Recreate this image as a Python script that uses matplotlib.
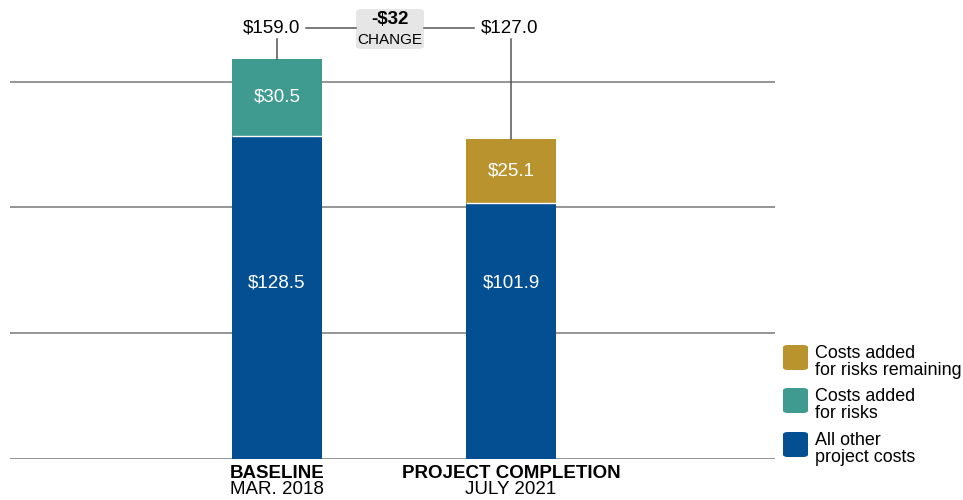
import matplotlib
matplotlib.use("Agg")
import matplotlib.pyplot as plt
from matplotlib.patches import FancyBboxPatch

plt.rcParams['font.family'] = ['Liberation Sans', 'DejaVu Sans']

categories = ["BASELINE", "PROJECT COMPLETION"]
subtitles = ["MAR. 2018", "JULY 2021"]
other_costs = [128.5, 101.9]
risk_costs = [30.5, 0.0]
risk_remaining = [0.0, 25.1]
totals = [159.0, 127.0]
change_label = "-$32"
gridlines = [50, 100, 150]

legend_labels = ["Costs added\nfor risks remaining", "Costs added\nfor risks", "All other\nproject costs"]

BLUE = "#034f91"
TEAL = "#3f9a8f"
GOLD = "#b8932e"
GRID = "#8c8c8c"
FS = 13.5

W, H = 963, 500
fig = plt.figure(figsize=(W / 100, H / 100), dpi=100)
ax_left, ax_right = 10, 775
ax_bottom_px = 459
scale = 2.516
ax = fig.add_axes([ax_left / W, (H - ax_bottom_px) / H, (ax_right - ax_left) / W, ax_bottom_px / H])

px_per_unit = 234.0
c0 = 267.0
ax.set_xlim(-c0 / px_per_unit, (ax_right - ax_left - c0) / px_per_unit)
ax.set_ylim(0, ax_bottom_px / scale)
ax.axis("off")

for g in gridlines:
    ax.axhline(g, color=GRID, lw=1.3, zorder=0)
ax.axhline(0, color=GRID, lw=1.3, zorder=0)

xs = list(range(len(categories)))
bw = 90 / px_per_unit
ax.bar(xs, other_costs, width=bw, color=BLUE, linewidth=0, zorder=2)
ax.bar(xs, risk_costs, width=bw, bottom=other_costs, color=TEAL, linewidth=0, zorder=2)
ax.bar(xs, risk_remaining, width=bw, bottom=other_costs, color=GOLD, linewidth=0, zorder=2)

# base-segment labels sit at a common height across bars
base_label_y = 70
for x, o, r, rr in zip(xs, other_costs, risk_costs, risk_remaining):
    ax.hlines(o, x - bw / 2, x + bw / 2, color="white", lw=1.0, zorder=3)
    ax.text(x, base_label_y, f"${o:.1f}", ha="center", va="center", color="white", fontsize=FS, zorder=4)
    if r > 0:
        ax.text(x, o + r / 2, f"${r:.1f}", ha="center", va="center", color="white", fontsize=FS, zorder=4)
    if rr > 0:
        ax.text(x, o + rr / 2, f"${rr:.1f}", ha="center", va="center", color="white", fontsize=FS, zorder=4)

def fx(px):
    return px / W

def fy(py):
    return 1 - py / H

centers_px = [ax_left + c0 + x * px_per_unit for x in xs]
total_label_x = [272, 510]
label_y = 28
for cx, lx, t in zip(centers_px, total_label_x, totals):
    top_px = ax_bottom_px - t * scale
    fig.add_artist(plt.Line2D([fx(cx), fx(cx)], [fy(top_px), fy(39)], color="#555555", lw=1.1))
    fig.text(fx(lx), fy(label_y), f"${t:.1f}", ha="center", va="center", fontsize=FS)

fig.add_artist(plt.Line2D([fx(306), fx(356)], [fy(label_y), fy(label_y)], color="#555555", lw=1.1))
fig.add_artist(plt.Line2D([fx(424), fx(474)], [fy(label_y), fy(label_y)], color="#555555", lw=1.1))

box = FancyBboxPatch((fx(356), fy(49)), fx(424) - fx(356), fy(9) - fy(49),
                     boxstyle="round,pad=0,rounding_size=0.006", transform=fig.transFigure,
                     facecolor="#e6e6e6", edgecolor="none")
fig.add_artist(box)
fig.text(fx(390), fy(20), change_label, ha="center", va="center", fontsize=13.5, fontweight="bold")
fig.text(fx(390), fy(40), "CHANGE", ha="center", va="center", fontsize=11)

for cx, cat, sub in zip(centers_px, categories, subtitles):
    fig.text(fx(cx), fy(473), cat, ha="center", va="center", fontsize=FS, fontweight="bold")
    fig.text(fx(cx), fy(490), sub, ha="center", va="center", fontsize=FS)

# legend
legend_colors = [GOLD, TEAL, BLUE]
legend_tops = [345, 388, 432]
for lab, col, top in zip(legend_labels, legend_colors, legend_tops):
    sq = FancyBboxPatch((fx(783), fy(top + 25)), fx(25), 25 / H,
                        boxstyle="round,pad=0,rounding_size=0.005", transform=fig.transFigure,
                        facecolor=col, edgecolor="none")
    fig.add_artist(sq)
    fig.text(fx(815), fy(top), lab, ha="left", va="top", fontsize=12.9, linespacing=1.0)

fig.savefig("out.png", dpi=100)
